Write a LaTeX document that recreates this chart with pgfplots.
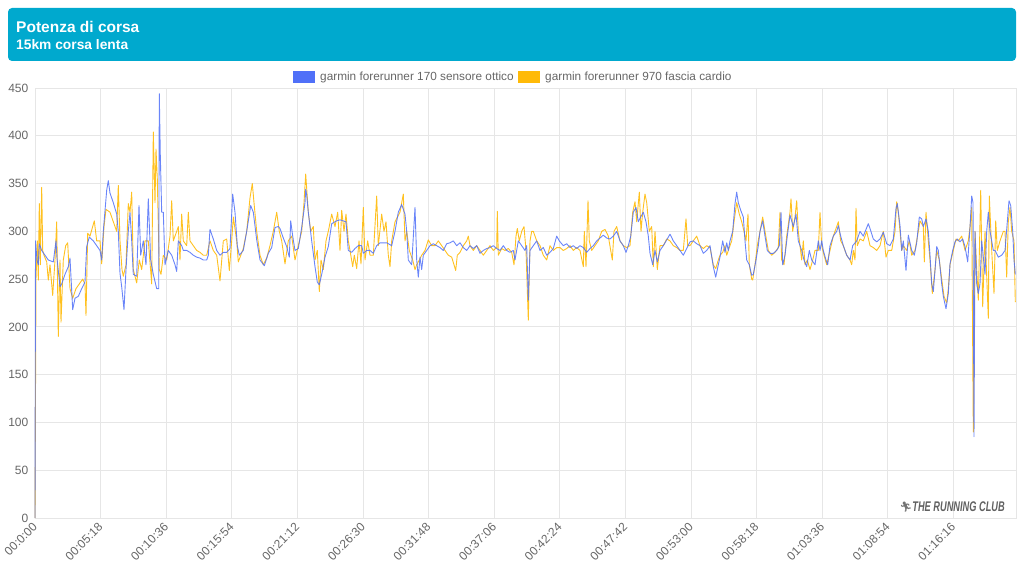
\documentclass[border=0pt]{standalone}
\usepackage{fontspec}
\setmainfont{Liberation Sans}
\newfontfamily\emojifont{Noto Emoji}
\usepackage{pgfplots}
\pgfplotsset{compat=1.18}
\usepackage{pgfplotstable}
\definecolor{banner}{HTML}{00A9CE}
\definecolor{sblue}{HTML}{5070F8}
\definecolor{sorange}{HTML}{FFBA08}
\definecolor{txtgrey}{HTML}{666666}
\definecolor{gridgrey}{HTML}{E6E6E6}

% x = position along the run (chart pixel column), y = power in W
\pgfplotstableread{
x y
35 0
35.5 290
37 270
38.3 265
39.3 287
41.7 280
45 275
48.3 270
53.3 268
56 290
57 272
60 242
61.7 245
65 255
68.3 263
70 272
72.7 218
75 230
78.3 232
81.7 240
85 247
86.7 284
89.3 294
93.3 290
96.7 285
100 280
101.7 270
103.3 300
106.7 343
108.3 353
110 340
113.3 330
116.7 318
118.3 300
120 256
121.7 242
124 218
126 260
128.3 300
130 320
131.7 290
133.3 255
136.7 253
139 327
140.7 275
143.3 290
146 265
148.3 334
150.7 270
153.3 255
156.7 240
158.7 240
159.3 444
160.3 380
161.7 320
163.3 320
165 265
168.3 280
171.7 275
175 265
176.7 258
178.3 290
181.7 285
183.3 280
186.7 280
190 278
193.3 275
196.7 273
200 272
203.3 270
206.7 270
208.3 275
210 302
213.3 292
216.7 280
220 275
223.3 278
226.7 278
230 282
232.7 339
235 320
237.3 285
239.3 275
243.3 280
246.7 300
250.7 327
253.3 320
256.7 291
260 270
264.3 264
268.3 277
271.7 283
275 304
278.3 305
280 303
283.3 293
286.7 284
289.3 273
290.7 311
292.7 295
295 280
298.3 282
301.7 304
305 330
305.7 344
306.7 338
308.3 320
311.7 290
315 263
317.3 247
319.3 244
321.7 255
325 273
328.3 284
331.7 308
336.7 311
340 312
346 310
348.3 280
351.7 278
355 282
358.3 285
361.7 285
363.3 277
366.7 280
370 280
373.3 277
376.7 285
380 288
383.3 288
386.7 288
391.7 285
395 300
398.3 320
401.7 328
405 318
406.7 300
408.3 270
411.7 265
415 325
416.7 270
418.3 252
420 273
421.7 260
423.3 275
426.7 280
430 285
433.3 287
436.7 285
440 283
443.3 280
446.7 287
450 288
453.3 290
456.7 285
460 288
463.3 283
466.7 280
470 285
473.3 282
476.7 285
480 277
483.3 280
486.7 282
490 283
493.3 285
496.7 282
500 280
503.3 285
506.7 280
510 278
513.3 280
515 270
518.3 290
521.7 285
525 280
526.7 285
528.3 228
530 280
533.3 285
536.7 290
540 280
543.3 283
546.7 275
550 278
553.3 282
556.7 295
559.3 290
563.3 285
566.7 287
570 283
573.3 285
576.7 282
580 285
583.3 283
586.7 278
590 282
593.3 285
596.7 290
600 293
603.3 296
606.7 293
610 292
613.3 295
616.7 300
620 290
623.3 285
626 278
628.3 285
630.7 295
633.3 320
636 325
638.3 310
640.7 315
643.3 320
646 310
648.3 295
650 277
652.7 265
655 280
657.3 268
660 280
663.3 285
666.7 291
670 297
673.3 290
676.7 285
680 280
683.3 275
686.7 282
690 289
693.3 290
696.7 287
700 285
703.3 277
706.7 280
710 285
713.3 263
715.7 252
718.3 265
720 273
722.7 290
725 278
726.7 288
728.3 280
730 290
732.7 300
735 329
736.7 341
738.3 330
740.7 322
743.3 315
745 290
746.7 270
749.3 265
751.7 254
753.3 255
756 270
758.3 285
760 300
762.7 311
765 295
767.3 280
770 277
773.3 277
776.7 280
779.3 285
781 320
782.7 265
785 275
787.3 295
790 317
793.3 305
796 318
798.3 290
801.7 280
804 270
806.7 263
809.3 280
811.7 270
815 265
818.3 290
820 280
821.7 290
823.3 280
826 270
827.7 265
830 285
833.3 295
836.7 300
838.3 306
840.7 295
843.3 285
846.7 275
850 270
852.7 285
856.7 290
860 300
863.3 295
868.3 308
870 303
873.3 292
876.7 289
880 292
883.3 299
886.7 287
890 285
893.3 292
896 324
897.3 329
900 306
901.7 280
903.3 290
906 259
908.3 296
911.7 280
914.3 275
916.7 288
919.3 315
921.7 313
923.3 305
926 313
928.3 300
930 275
931.7 245
933.3 237
935 259
936.7 284
938.3 280
940 263
941.7 245
943.3 232
946 219
948.3 235
950 266
952.7 280
955 289
957.3 292
960 289
962.7 292
965 284
967.7 268
970 304
971.7 337
973 330
974 85
975 300
976.7 245
978.3 235
980 245
981.7 290
983.3 273
985 255
986.7 300
988.3 320
990 300
991.7 290
993.3 280
995 280
998.3 273
1001.7 275
1005 280
1009 332
1010.7 327
1012.7 300
1014 270
1015.3 255
}\bluedata

\pgfplotstableread{
x y
35 0
35.3 80
36 250
37.3 290
38.3 249
39.3 329
40.3 265
41.7 346
42.7 280
44 275
46.7 268
48.3 249
50 265
52.7 233
55 270
56.7 310
58.3 190
60 270
61 205
63.3 270
65.7 285
67.7 288
70 240
72.7 230
76 240
79.3 245
82.7 250
85 245
86 212
87.7 298
90 295
94.3 311
96.7 290
100 290
101.7 266
104 305
106 323
110 320
113.3 310
116.7 300
118.3 348
120 290
122 260
123.3 253
126 265
128.3 329
130 320
131.7 341
133.3 260
136.7 246
139.3 270
141.7 260
145 290
148.3 290
151.7 245
153.3 404
155 330
156 386
157.3 355
159.3 260
161 255
163.3 275
166.7 270
170 295
171.7 332
173.3 290
176.7 300
178.3 305
180 270
181.7 318
183.3 290
186.7 285
188.3 320
190 290
193.3 285
196.7 280
200 278
203.3 275
206.7 275
210 290
213.3 280
216.7 275
220 248
223.3 290
226.7 292
229.3 259
231.7 290
233.3 315
236.7 290
238.3 268
243.3 282
246.7 300
250 335
252.3 350
254 330
256.7 300
260 275
263.3 265
266.7 272
270 285
273.3 300
276.7 320
279.3 300
281.7 290
285 266
288.3 290
291.7 295
295 270
298.3 285
301.7 300
304 330
305.7 360
308.3 320
310.7 300
313.3 305
315 270
317.3 280
319.3 237
321 270
323.3 260
326 290
328.3 300
331.7 318
335 305
337.7 320
340 280
341.7 322
344 300
346 318
348.3 290
350 280
352.7 263
354.3 275
356.7 261
359 290
361 266
363.3 325
365 270
367.7 290
370 275
373.3 275
376.7 337
378.3 285
381.7 318
384 300
386 310
388.3 275
390 263
391.7 290
395 310
400 320
403.3 339
405 290
406.7 300
409.3 280
412.7 270
415 260
416.7 265
419.3 270
421.7 275
425 280
428.3 291
431.7 285
435 285
438.3 290
441.7 285
445 280
448.3 275
451.7 273
455.7 259
457.3 275
460 278
463.3 285
466.7 290
468.3 295
470 285
473.3 280
476.7 285
480 280
483.3 275
486.7 280
490 285
493.3 280
496.7 283
497.3 321
498.3 275
501.7 282
505 280
508.3 282
511.7 278
514 265
516 295
517.3 303
519.3 290
521.7 300
524 305
526 280
528.3 207
530 290
531.7 300
533.3 300
536.7 290
540 285
543.3 275
546.7 270
550 285
553.3 280
556.7 283
560 283
563.3 280
566.7 282
570 285
573.3 280
576.7 283
580 280
583.3 263
584.3 300
586 263
588 332
589.3 290
591.7 280
595 285
598.3 290
601.7 300
605 302
608.3 295
612.3 270
614 300
616.7 305
620 290
623.3 285
626.7 283
630 285
632.7 320
635 331
636.7 310
639.3 341
641 300
642.7 320
645 339
646.7 330
649.3 300
651.7 305
653.3 263
655 300
657.3 260
660 285
663.3 285
666.7 292
670 290
673.3 285
676.7 283
680 280
683.3 280
686 313
687.7 285
690 285
693.3 290
696.7 295
700 285
703.3 282
706.7 285
710 283
713.3 265
715.7 261
718.3 270
720 275
722.7 278
725 285
726.7 275
729.3 283
731.7 290
734 310
736.7 330
739.3 318
741.7 310
744 300
746 290
748 318
749.3 265
751.7 250
752.7 249
755 265
757.3 285
760 300
762.7 315
765 300
768.3 280
771.7 275
775 278
778.3 283
780 320
781.7 270
784 265
786.7 295
790 320
791 334
792.7 300
795 315
796.7 332
798.3 300
800 285
801.7 270
803.3 290
805 265
807.3 270
810 260
812.7 270
815 280
818.3 280
820 320
821.7 285
824 275
826.7 265
830 280
833.3 295
836.7 305
838.3 310
840.7 290
843.3 285
846.7 275
850 270
851.7 265
853.3 280
855 270
856 324
857.3 285
860 292
863.3 290
866.7 300
870 285
873.3 283
876.7 280
880 285
883.3 300
886 273
888.3 280
891.7 280
895 300
896.7 331
898.3 320
900 300
901.7 280
903.3 285
906.7 280
909.3 290
911.7 275
915 280
918.3 300
920 311
923.3 305
924.3 268
926 320
928.3 290
930 270
932.3 235
935 260
936.7 280
939.3 270
941.7 250
944 232
946.7 225
948.3 240
950 265
953.3 280
956 292
958.3 290
961.7 295
965 280
968.3 290
970 305
971.7 325
973.3 90
975 300
976.7 260
978.3 228
980.7 343
982.7 221
985 300
988.3 209
989.3 337
991.7 280
994 235
995.7 311
997.3 280
1000 290
1003.3 300
1005 300
1006.7 252
1008.3 310
1010 325
1011.7 300
1014 290
1015.3 226
}\orangedata

\begin{document}
\begin{tikzpicture}[x=1pt,y=1pt]
\path[use as bounding box] (0,0) rectangle (1024,576);
% banner
\fill[banner, rounded corners=4pt] (8,515) rectangle (1016,568);
\node[anchor=west, white, inner sep=0pt, font=\bfseries\fontsize{15.5}{17}\selectfont] at (16,549) {Potenza di corsa};
\node[anchor=west, white, inner sep=0pt, font=\bfseries\fontsize{13.8}{16}\selectfont] at (16,531) {15km corsa lenta};
% legend
\fill[sblue] (293,493) rectangle (315,505);
\node[anchor=west, inner sep=0pt, txtgrey, font=\fontsize{11.8}{13}\selectfont] at (320,499) {garmin forerunner 170 sensore ottico};
\fill[sorange] (518,493) rectangle (540,505);
\node[anchor=west, inner sep=0pt, txtgrey, font=\fontsize{11.8}{13}\selectfont] at (545,499) {garmin forerunner 970 fascia cardio};

\begin{axis}[
  at={(35pt,58pt)}, anchor=south west,
  scale only axis, width=981pt, height=430pt,
  xmin=0, xmax=4755.5, ymin=0, ymax=450,
  ytick={0,50,...,450},
  xtick={0,318,...,4452},
  xticklabels={00:0:00,00:05:18,00:10:36,00:15:54,00:21:12,00:26:30,00:31:48,00:37:06,00:42:24,00:47:42,00:53:00,00:58:18,01:03:36,01:08:54,01:16:16},
  /pgf/number format/assume math mode=true,
  grid=major,
  grid style={draw=gridgrey, line width=0.8pt},
  axis line style={draw=gridgrey, line width=0.8pt},
  major tick length=0pt,
  tick label style={txtgrey, font=\fontsize{12}{12}\selectfont},
  yticklabel style={anchor=east, inner sep=0pt},
  yticklabel shift=6.5pt,
  xticklabel style={rotate=45, anchor=east, inner sep=0pt},
  xticklabel shift=7pt,
  clip=false,
]
\addplot[sorange, line width=0.9pt, line join=round, opacity=0.9] table[x expr=(\thisrow{x}-35)*4.8476, y=y] {\orangedata};
\addplot[sblue, line width=0.9pt, line join=round, opacity=0.85] table[x expr=(\thisrow{x}-35)*4.8476, y=y] {\bluedata};
\end{axis}
% watermark
\node[anchor=east, inner sep=0pt, text=black!62, font=\bfseries\itshape\fontsize{14}{14}\selectfont] at (1005,69) {\scalebox{0.66}[1]{THE RUNNING CLUB}};
\node[inner sep=0pt, text=black!55, font=\emojifont\fontsize{10}{10}\selectfont] at (906,69) {🏃};
\end{tikzpicture}
\end{document}
